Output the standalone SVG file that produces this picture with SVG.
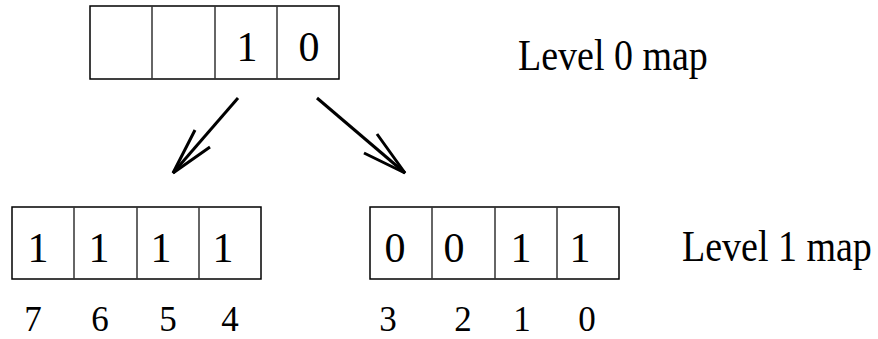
<svg xmlns="http://www.w3.org/2000/svg" width="878" height="339" viewBox="0 0 878 339">
<defs>
<style>
.box{fill:none;stroke:#000;stroke-width:1.5}
.div{stroke:#333;stroke-width:1.5}
.d{font-size:42px;text-anchor:middle}
.l{font-size:35px;text-anchor:middle}
.lv{font-size:38px}
.arr{fill:none;stroke:#000;stroke-width:3;stroke-linecap:butt}
</style>
</defs>
<g id="level0">
<rect class="box" x="90" y="6" width="249" height="73"/>
<line class="div" x1="152" y1="6" x2="152" y2="79"/>
<line class="div" x1="215" y1="6" x2="215" y2="79"/>
<line class="div" x1="277" y1="6" x2="277" y2="79"/>
<text class="d" x="247" y="61" font-family="Liberation Serif">1</text>
<text class="d" x="309" y="61" font-family="Liberation Serif">0</text>
</g>
<g id="level0-label">
<text class="lv" transform="translate(518,70) scale(1,1.14)" x="0" y="0" font-family="Liberation Serif">Level 0 map</text>
</g>
<g id="level1-left" font-family="Liberation Serif">
<rect class="box" x="12" y="207" width="249" height="72"/>
<line class="div" x1="74" y1="207" x2="74" y2="279"/>
<line class="div" x1="137" y1="207" x2="137" y2="279"/>
<line class="div" x1="199" y1="207" x2="199" y2="279"/>
<text class="d" x="38" y="262">1</text>
<text class="d" x="99" y="262">1</text>
<text class="d" x="161" y="262">1</text>
<text class="d" x="223" y="262">1</text>
<text class="l" x="33" y="331">7</text>
<text class="l" x="100" y="331">6</text>
<text class="l" x="168" y="331">5</text>
<text class="l" x="230" y="331">4</text>
</g>
<g id="level1-right" font-family="Liberation Serif">
<rect class="box" x="370" y="207" width="249" height="72"/>
<line class="div" x1="432" y1="207" x2="432" y2="279"/>
<line class="div" x1="495" y1="207" x2="495" y2="279"/>
<line class="div" x1="557" y1="207" x2="557" y2="279"/>
<text class="d" x="395" y="262">0</text>
<text class="d" x="454" y="262">0</text>
<text class="d" x="521" y="262">1</text>
<text class="d" x="580" y="262">1</text>
<text class="l" x="388" y="331">3</text>
<text class="l" x="463" y="331">2</text>
<text class="l" x="522" y="331">1</text>
<text class="l" x="587" y="331">0</text>
</g>
<g id="level1-label">
<text class="lv" transform="translate(682,261) scale(1,1.14)" x="0" y="0" font-family="Liberation Serif">Level 1 map</text>
</g>
<g id="connectors">
<line class="arr" x1="238" y1="98" x2="173" y2="173"/>
<polyline class="arr" points="195,130 173,173 210,147"/>
<line class="arr" x1="317" y1="98" x2="405" y2="173"/>
<polyline class="arr" points="377,134 405,173 364,153"/>
</g>
</svg>
